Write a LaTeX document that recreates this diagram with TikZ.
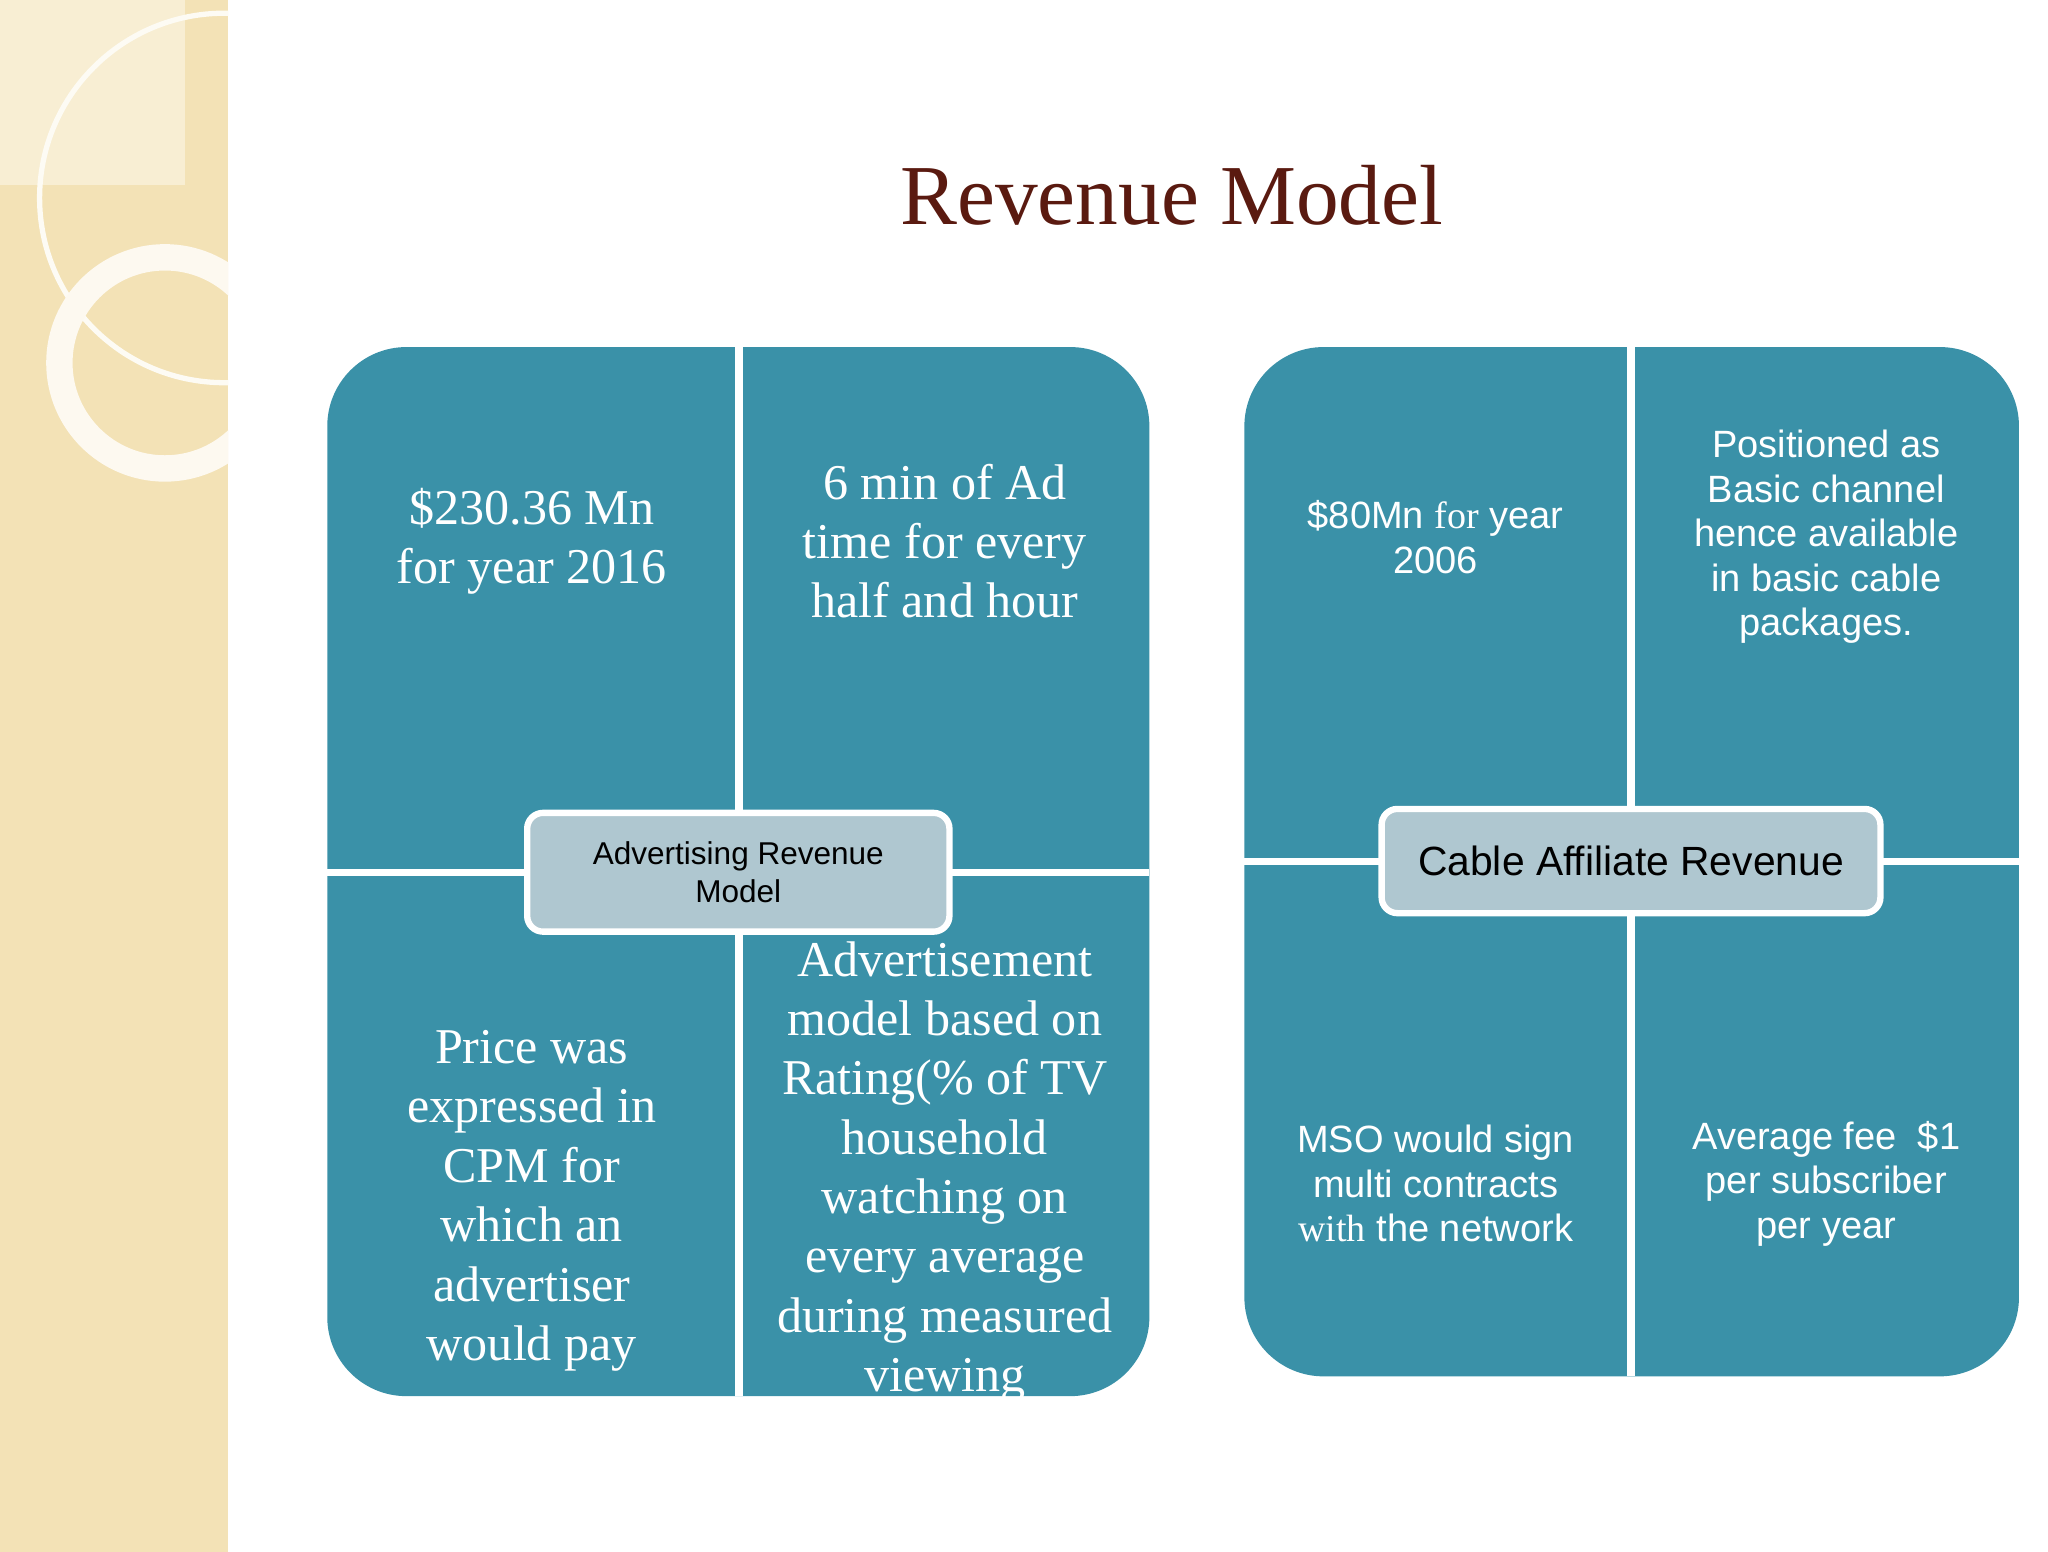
\documentclass[tikz,border=0pt]{standalone}
\usepackage{fontspec}
\setmainfont{Liberation Serif}
\setsansfont{Liberation Sans}
\begin{document}
\begin{tikzpicture}[x=0.25mm,y=-0.25mm,
  panel/.style={fill=teal0,rounded corners=15mm},
  divider/.style={draw=white,line width=1.4mm},
  qs/.style={text=white,align=center,font=\fontsize{27}{32}\selectfont},
  qsans/.style={text=white,align=center,font=\sffamily\fontsize{20.5}{24}\selectfont},
  hub/.style={draw=white,line width=1.2mm,fill=hubfill,rounded corners=3mm,align=center,inner sep=0pt}]
\definecolor{teal0}{HTML}{3A91A8}
\definecolor{hubfill}{HTML}{AFC7D0}
\definecolor{beige}{HTML}{F3E2B6}
\definecolor{titlec}{HTML}{5A1A10}
\useasboundingbox (0,0) rectangle (1552,1176);
\fill[white] (0,0) rectangle (1552,1176);
% left decorative strip
\fill[beige] (0,0) rectangle (173,1176);
\fill[beige!60!white] (0,0) rectangle (140,140);
\begin{scope}
\clip (0,0) rectangle (173,1176);
\draw[white!85!beige,line width=1mm] (170,150) circle (140);
\draw[white!80!beige,line width=5mm] (125,275) circle (80);
\end{scope}
\node[font=\fontsize{46}{52}\selectfont,text=titlec] (title) at (888,148) {Revenue Model};
% left panel
\fill[panel] (248,263) rectangle (871,1058);
\draw[divider] (560,263) -- (560,1058);
\draw[divider] (248,661) -- (871,661);
\node[qs] (a1) at (403,410) {\$230.36 Mn\\for year 2016};
\node[qs] (a2) at (716,410) {6 min of Ad\\time for every\\half and hour};
\node[qs] (a3) at (403,910) {Price was\\expressed in\\CPM for\\which an\\advertiser\\would pay};
\node[qs] (a4) at (716,888) {Advertisement\\model based on\\Rating(\% of TV\\household\\watching on\\every average\\during measured\\viewing};
\node[hub,minimum width=80mm,minimum height=22.5mm,font=\sffamily\fontsize{17}{20}\selectfont] (h1) at (559.5,661) {Advertising Revenue\\Model};
% right panel
\fill[panel] (943,263) rectangle (1530,1043);
\draw[divider] (1236,263) -- (1236,1043);
\draw[divider] (943,653) -- (1530,653);
\node[qsans] (b1) at (1088,407) {\$80Mn {\rmfamily for} year\\2006};
\node[qsans] (b2) at (1384,407) {Positioned as\\Basic channel\\hence available\\in basic cable\\packages.};
\node[qsans] (b3) at (1088,897) {MSO would sign\\multi contracts\\{\rmfamily with} the network};
\node[qsans] (b4) at (1384,897) {Average fee~~\$1\\per subscriber\\per year};
\node[hub,minimum width=94.5mm,minimum height=19.75mm,font=\sffamily\fontsize{22}{26}\selectfont] (h2) at (1236,652.5) {Cable Affiliate Revenue};
\end{tikzpicture}
\end{document}
